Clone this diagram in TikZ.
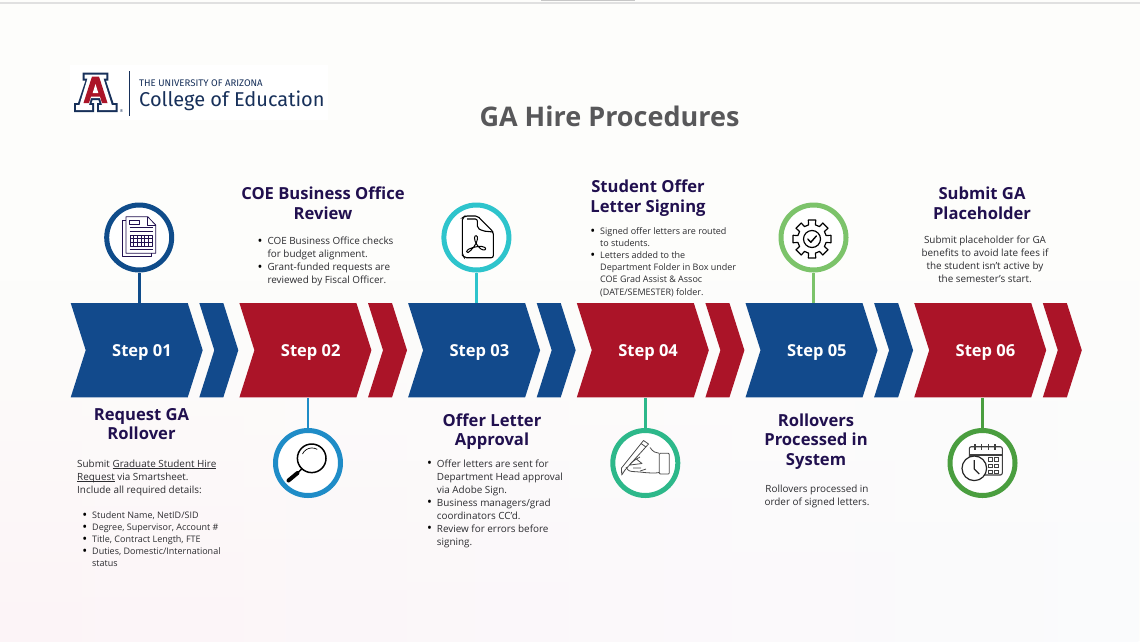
\documentclass[tikz,border=0pt]{standalone}
\usepackage{fontspec}
\setmainfont{Open Sans}
\newfontfamily\logofont{Fira Sans}
\usetikzlibrary{arrows,fadings}

\definecolor{ublue}{HTML}{124A8C}
\definecolor{ured}{HTML}{AB1428}
\definecolor{headtext}{HTML}{21104F}
\definecolor{bodytext}{HTML}{2C2C30}
\definecolor{titletext}{HTML}{58585A}
\definecolor{logonavy}{HTML}{17305A}
\definecolor{ringa}{HTML}{0F4C8A}
\definecolor{ringb}{HTML}{1F8CC7}
\definecolor{ringc}{HTML}{2EC4CC}
\definecolor{ringd}{HTML}{2DB88A}
\definecolor{ringe}{HTML}{7CC36A}
\definecolor{ringf}{HTML}{4A9E3F}
\definecolor{bgtop}{HTML}{FDFDFB}
\definecolor{bgpink}{HTML}{FCF4F7}
\definecolor{bgblue}{HTML}{FAFBFD}

% one arrow of the band, with its small tail piece
\newcommand{\chevron}[2]{
  \fill[#2] (#1,303) -- ++(117,0) -- ++(15,47.2) -- ++(-15,47.2) -- ++(-117,0) -- ++(15,-47.2) -- cycle;
  \fill[#2] (#1+128.6,303) -- ++(24,0) -- ++(15,47.2) -- ++(-15,47.2) -- ++(-24,0) -- ++(15,-47.2) -- cycle;
}
\newcommand{\bul}{\llap{\raisebox{-0.9pt}[0pt][0pt]{\fontsize{13}{13}\selectfont\textcolor{black}{\textbullet}}\hspace{5pt}}}

\begin{document}
\begin{tikzpicture}[x=1pt,y=-1pt,
    ringnode/.style={circle,draw=#1,line width=5pt,fill=white,minimum size=65pt,inner sep=0pt},
    stem/.style={line width=2.6pt,draw=#1},
    steplabel/.style={text=white,inner sep=0pt,minimum height=94.4pt,text height=12pt,text depth=0pt,font=\fontsize{16.5}{18}\selectfont\bfseries},
    heading/.style={align=center,inner sep=0pt,text=headtext,font=\fontsize{16.6}{19.7}\selectfont\bfseries},
    bodyleft/.style={align=left,anchor=north west,inner sep=0pt,text=bodytext,font=\fontsize{9.9}{13}\selectfont},
    listleft/.style={align=left,anchor=north west,inner sep=0pt,text=bodytext,font=\fontsize{9}{12.1}\selectfont},
    bodymid/.style={align=center,anchor=north,inner sep=0pt,text=bodytext,font=\fontsize{9.9}{13}\selectfont},
    iconline/.style={line width=0.8pt,draw=#1,line join=round}]
  \useasboundingbox (0,0) rectangle (1140,641);
  % Background and the strip along the top
  \fill[bgtop] (0,0) rectangle (1140,641);
  \shade[left color=bgpink,right color=bgblue,path fading=north] (0,280) rectangle (1140,641);
  \fill[black!12] (0,2) rectangle (1140,3.6);
  \fill[black!22] (541,0) rectangle (635,1.4);

  % Logo
  \fill[white] (70,65) rectangle (328,120);
  \fill[logonavy] (82.7,72.7) -- (108.3,72.7) -- (108.3,80.5) -- (106,80.5) -- (113.5,103) -- (117.5,103) -- (117.5,112) -- (97,112) -- (97,103) -- (99.5,103) -- (98.5,100) -- (92.5,100) -- (91.5,103) -- (94,103) -- (94,112) -- (74,112) -- (74,103) -- (78,103) -- (85.5,80.5) -- (82.7,80.5) -- cycle;
  \fill[white] (84.7,74.7) -- (106.3,74.7) -- (106.3,78.5) -- (103.5,78.5) -- (111.8,105) -- (115.5,105) -- (115.5,110) -- (99,110) -- (99,105) -- (102,105) -- (100,98) -- (91,98) -- (89,105) -- (92,105) -- (92,110) -- (76,110) -- (76,105) -- (79.5,105) -- (87.5,78.5) -- (84.7,78.5) -- cycle;
  \fill[ured] (92,76.5) -- (99,76.5) -- (107.5,103) -- (102,103) -- (100,96.5) -- (91,96.5) -- (89,103) -- (83.5,103) -- cycle;
  \fill[white] (95.5,84) -- (98.3,93) -- (92.7,93) -- cycle;
  \draw[logonavy,line width=0.8pt] (129.5,71) -- (129.5,116);
  \node[inner sep=0pt,text=logonavy,font=\fontsize{4}{4}\selectfont] (logomark) at (121.5,111) {\textregistered};
  \node[anchor=west,inner sep=0pt,text=logonavy,font=\logofont\fontsize{9.6}{10}\selectfont] (logotop) at (139,83.5) {THE UNIVERSITY OF ARIZONA};
  \node[anchor=west,inner sep=0pt,text=logonavy,font=\logofont\fontsize{20}{22}\selectfont] (logoname) at (139,101) {College of Education};

  % Title
  \node[inner sep=0pt,text=titletext,font=\fontsize{27}{30}\selectfont\bfseries] (title) at (609.5,116) {GA Hire Procedures};

  % Band of arrows
  \chevron{70.7}{ublue}
  \chevron{239.4}{ured}
  \chevron{408.1}{ublue}
  \chevron{576.8}{ured}
  \chevron{745.5}{ublue}
  \chevron{914.2}{ured}
  \node[steplabel] (step1) at (142,350.4) {Step 01};
  \node[steplabel] (step2) at (310.7,350.4) {Step 02};
  \node[steplabel] (step3) at (479.4,350.4) {Step 03};
  \node[steplabel] (step4) at (648.1,350.4) {Step 04};
  \node[steplabel] (step5) at (816.8,350.4) {Step 05};
  \node[steplabel] (step6) at (985.5,350.4) {Step 06};

  % Rings and their stems
  \node[ringnode=ringa] (ring1) at (139.2,237.5) {};
  \node[ringnode=ringb] (ring2) at (308,463) {};
  \node[ringnode=ringc] (ring3) at (476.4,237.5) {};
  \node[ringnode=ringd] (ring4) at (645.3,463) {};
  \node[ringnode=ringe] (ring5) at (813.5,237.5) {};
  \node[ringnode=ringf] (ring6) at (982.5,463) {};
  \draw[stem=ringa] (ring1) -- (ring1 |- step1.north);
  \draw[stem=ringb] (ring2) -- (ring2 |- step2.south);
  \draw[stem=ringc] (ring3) -- (ring3 |- step3.north);
  \draw[stem=ringd] (ring4) -- (ring4 |- step4.south);
  \draw[stem=ringe] (ring5) -- (ring5 |- step5.north);
  \draw[stem=ringf] (ring6) -- (ring6 |- step6.south);

  % Icon 1, the form
  \draw[iconline=headtext] (126,220) -- (122.3,220) -- (122.3,256.7) -- (151.7,256.7) -- (151.7,253.3);
  \draw[iconline=headtext] (126,216.7) -- (147.7,216.7) -- (155.7,225) -- (155.7,253.3) -- (126,253.3) -- cycle;
  \draw[iconline=headtext] (147.7,216.7) -- (147.7,225) -- (155.7,225);
  \draw[iconline=headtext] (129.3,220.7) rectangle (139,224);
  \draw[iconline=headtext] (129.5,227.7) -- (152.5,227.7) (129.5,231) -- (152.5,231) (129.5,249.3) -- (152.5,249.3);
  \draw[iconline=headtext] (130,235) rectangle (152.3,246);
  \draw[iconline=headtext] (130,238.7) -- (152.3,238.7) (130,242.4) -- (152.3,242.4) (133.7,235) -- (133.7,246) (137.4,235) -- (137.4,246) (141.1,235) -- (141.1,246) (144.8,235) -- (144.8,246) (148.5,235) -- (148.5,246);

  % Icon 2, the lens
  \draw[black,line width=1.5pt] (311.7,458.3) circle (14.3);
  \draw[black,line width=0.7pt] (302.5,454) arc (205:300:10.5);
  \draw[black,line width=1.5pt] (301.7,469) -- (298,472.5);
  \draw[black,line width=4pt,line cap=round] (297.5,473) -- (288.5,480.5);

  % Icon 3, the pdf page
  \draw[black,line width=1.1pt,rounded corners=2pt] (465,216) -- (477.5,216) -- (493.3,232) -- (493.3,257.7) -- (464.5,257.7) -- (462.3,255) -- (462.3,218) -- cycle;
  \draw[black,line width=1.1pt,rounded corners=2pt] (467,219) -- (477.3,219) -- (477.3,228) -- (483,231) -- (493.3,232);
  \draw[black,line width=1pt] (474.5,238) .. controls (474.5,234.5) and (478,235) .. (477.5,239) .. controls (477,244) and (471,251) .. (468,252.5) .. controls (466,253.5) and (466,250.5) .. (469,249) .. controls (473,247) and (482,245) .. (485,247.5) .. controls (487,249.5) and (484,251) .. (481,249) .. controls (478,247) and (474.5,242) .. (474.5,238) -- cycle;

  % Icon 4, the writing hand
  \draw[iconline=black!70,rounded corners=1pt] (659.3,453.3) rectangle (669.3,474);
  \draw[iconline=black!70] (643.5,440.5) -- (648.5,444) -- (625,470) -- (621.7,475) -- (621.5,468) -- cycle;
  \draw[iconline=black!70] (641,443.5) -- (646,447);
  \draw[iconline=black!70] (650,447.5) .. controls (653,452) and (656,453) .. (659.3,453.3);
  \draw[iconline=black!70] (659.3,472.5) .. controls (650,474) and (645,472) .. (632,471.5) .. controls (628,471) and (627,469) .. (626,467);
  \draw[iconline=black!70] (640,457) .. controls (633,461) and (630,463) .. (630,465) -- (642,463.5) -- (635,458);
  \draw[iconline=black!70] (633,468) -- (641,468) (640,471) -- (646,469);

  % Icon 5, the gear
  \draw[black,line width=1.2pt,line join=round] (812,239) ++(-11:19.3)
    \foreach \a in {0,45,...,315}{ -- ({812+19.3*cos(\a-11)},{239+19.3*sin(\a-11)}) -- ({812+19.3*cos(\a+11)},{239+19.3*sin(\a+11)}) -- ({812+14.5*cos(\a+14)},{239+14.5*sin(\a+14)}) -- ({812+14.5*cos(\a+31)},{239+14.5*sin(\a+31)}) } -- cycle;
  \draw[black,line width=1.2pt] (812,239) circle (8.5);
  \draw[black,line width=1.4pt,line cap=round,line join=round] (807.8,239) -- (810.8,242.3) -- (816.3,236);

  % Icon 6, the calendar and clock
  \draw[black!75,line width=1.1pt,rounded corners=2pt] (969.3,446.7) rectangle (1002.3,475);
  \draw[black!75,line width=1.1pt] (969.3,455) -- (1002.3,455);
  \draw[black!75,line width=1.1pt] (975,444.3) -- (975,450) (981.7,444.3) -- (981.7,450) (988.3,444.3) -- (988.3,450) (995,444.3) -- (995,450);
  \draw[black!75,line width=0.9pt] (988.3,457.5) rectangle (992,461) (994.8,457.5) rectangle (998.4,461) (988.3,464) rectangle (992,467.5) (994.8,464) rectangle (998.4,467.5) (988.3,470) rectangle (992,473) (994.8,470) rectangle (998.4,473);
  \draw[black!85,line width=1.2pt,fill=white] (974.3,468.3) circle (12.3);
  \draw[black!85,line width=1.2pt,line join=round] (974.3,460) -- (974.3,469) -- (979.3,474);

  % Headings
  \node[heading] (head1) at (141.5,424) {Request GA\\Rollover};
  \node[heading] (head2) at (323,203) {COE Business Office\\Review};
  \node[heading] (head3) at (492,431.5) {Offer Letter\\Approval};
  \node[heading] (head4) at (648,198) {Student Offer\\Letter Signing};
  \node[heading] (head5) at (816,441.5) {Rollovers\\Processed in\\System};
  \node[heading] (head6) at (982,203) {Submit GA\\Placeholder};

  % Texts
  \node[bodyleft] (text1) at (77,459.3) {Submit \underline{\smash{Graduate Student Hire}}\\\underline{\smash{Request}} via Smartsheet.\\Include all required details:};
  \node[listleft] (list1) at (92,511.5) {\bul Student Name, NetID/SID\\\bul Degree, Supervisor, Account \#\\\bul Title, Contract Length, FTE\\\bul Duties, Domestic/International\\status};
  \node[bodyleft] (text2) at (267.3,236.8) {\bul COE Business Office checks\\for budget alignment.\\\bul Grant-funded requests are\\reviewed by Fiscal Officer.};
  \node[bodyleft] (text3) at (436.7,459.3) {\bul Offer letters are sent for\\Department Head approval\\via Adobe Sign.\\\bul Business managers/grad\\coordinators CC'd.\\\bul Review for errors before\\signing.};
  \node[listleft] (text4) at (600,227.5) {\bul Signed offer letters are routed\\to students.\\\bul Letters added to the\\Department Folder in Box under\\COE Grad Assist \& Assoc\\(DATE/SEMESTER) folder.};
  \node[bodymid] (text5) at (817,484.8) {Rollovers processed in\\order of signed letters.};
  \node[bodymid] (text6) at (985,235.8) {Submit placeholder for GA\\benefits to avoid late fees if\\the student isn't active by\\the semester's start.};
\end{tikzpicture}
\end{document}
